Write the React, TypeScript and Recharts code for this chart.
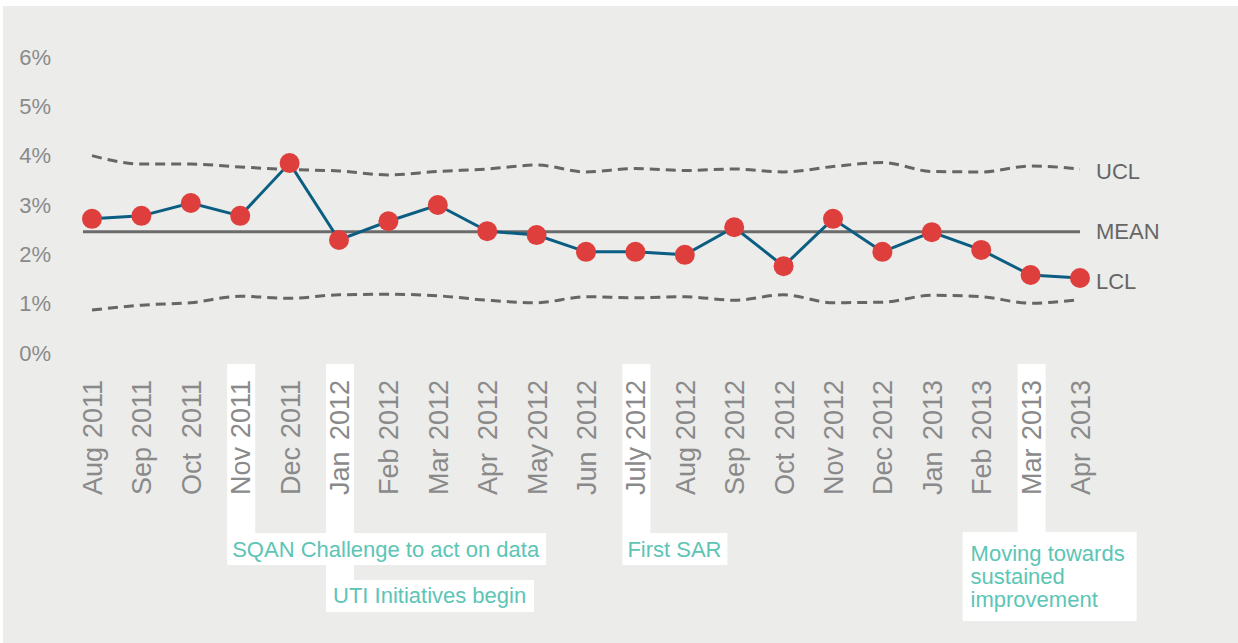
import React from 'react'
import { LineChart, Line, XAxis, YAxis, ReferenceLine, ReferenceDot } from 'recharts'

const months = [
  'Aug 2011', 'Sep 2011', 'Oct 2011', 'Nov 2011', 'Dec 2011', 'Jan 2012', 'Feb 2012',
  'Mar 2012', 'Apr 2012', 'May 2012', 'Jun 2012', 'July 2012', 'Aug 2012', 'Sep 2012',
  'Oct 2012', 'Nov 2012', 'Dec 2012', 'Jan 2013', 'Feb 2013', 'Mar 2013', 'Apr 2013',
]
const rate = [2.72, 2.78, 3.04, 2.78, 3.85, 2.29, 2.67, 3.0, 2.47, 2.39, 2.05, 2.05, 1.99, 2.55, 1.76, 2.72, 2.05, 2.45, 2.09, 1.58, 1.52]
const ucl = [4.0, 3.83, 3.83, 3.77, 3.72, 3.69, 3.61, 3.68, 3.73, 3.81, 3.67, 3.74, 3.7, 3.73, 3.67, 3.78, 3.86, 3.68, 3.67, 3.79, 3.73]
const lcl = [0.87, 0.97, 1.02, 1.15, 1.11, 1.18, 1.19, 1.16, 1.07, 1.02, 1.14, 1.12, 1.14, 1.07, 1.18, 1.02, 1.03, 1.17, 1.14, 1.01, 1.08]
const MEAN = 2.46
const yTicks = [0, 1, 2, 3, 4, 5, 6]

// annotation text per month
const notes: Record<string, string[]> = {
  'Nov 2011': ['SQAN Challenge to act on data'],
  'Jan 2012': ['UTI Initiatives begin'],
  'July 2012': ['First SAR'],
  'Mar 2013': ['Moving towards', 'sustained', 'improvement'],
}

// side labels: [text, y value]
const sideLabels: [string, number][] = [
  ['UCL', 3.69],
  ['MEAN', MEAN],
  ['LCL', 1.46],
]

const chartData = months.map((m, i) => ({ month: m, rate: rate[i], ucl: ucl[i], lcl: lcl[i] }))

const FONT = '"Liberation Sans", Arial, sans-serif'
const TICK_GREY = '#8a8a8a'
const NOTE_GREEN = '#5cc5b5'

// layout of the white strips and boxes, relative to the tick position
const noteLayout: Record<string, { strips: [number, number][]; box: [number, number, number, number]; tx: number; ty: number }> = {
  'Nov 2011': { strips: [[11, 181]], box: [-13, 180, 319, 32], tx: -8, ty: 204 },
  'Jan 2012': { strips: [[11, 181], [211, 228]], box: [-13, 227, 208, 32], tx: -6, ty: 250 },
  'July 2012': { strips: [[11, 181]], box: [-13, 180, 105, 32], tx: -8, ty: 204 },
  'Mar 2013': { strips: [[11, 180]], box: [-68, 179, 174, 89], tx: -60, ty: 208 },
}

function MonthTick(props: any) {
  const { x, y, payload } = props
  const label: string = payload.value
  const [mon, yr] = label.split(' ')
  const lay = noteLayout[label]
  const lines = notes[label]
  return (
    <g>
      {lay && lay.strips.map(([t, b], i) => (
        <rect key={i} x={x - 13} y={y + t} width={28} height={b - t} fill="#ffffff" />
      ))}
      <text transform={`translate(${x + 10},${y + 142}) rotate(-90)`} textAnchor="start" fontSize={27} fill={TICK_GREY} fontFamily={FONT}>{mon}</text>
      <text transform={`translate(${x + 10},${y + 27}) rotate(-90)`} textAnchor="end" fontSize={27} fill={TICK_GREY} fontFamily={FONT}>{yr}</text>
      {lay && (
        <g>
          <rect x={x + lay.box[0]} y={y + lay.box[1]} width={lay.box[2]} height={lay.box[3]} fill="#ffffff" />
          <text fontSize={22} fill={NOTE_GREEN} fontFamily={FONT}>
            {lines.map((ln, i) => (
              <tspan key={i} x={x + lay.tx} y={y + lay.ty + i * 23}>{ln}</tspan>
            ))}
          </text>
        </g>
      )}
    </g>
  )
}

export default function App() {
  return (
    <div style={{ position: 'absolute', left: 0, top: 0, width: 1238, height: 643, background: '#ffffff' }}>
      <div style={{ position: 'absolute', left: 3, top: 6, width: 1235, height: 637, background: '#ececea' }} />
      <div style={{ position: 'absolute', left: 0, top: 0 }}>
        <LineChart width={1238} height={643} data={chartData} margin={{ top: 57, right: 158, bottom: 0, left: 0 }}>
          <XAxis
            dataKey="month"
            interval={0}
            height={290}
            axisLine={false}
            tickLine={false}
            tickSize={0}
            tickMargin={0}
            padding={{ left: 9, right: 0 }}
            tick={<MonthTick />}
          />
          <YAxis
            domain={[0, 6]}
            ticks={yTicks}
            width={83}
            axisLine={false}
            tickLine={false}
            tickSize={0}
            tickMargin={32}
            tickFormatter={(v: number) => `${v}%`}
            tick={{ fontSize: 22, fill: TICK_GREY, fontFamily: FONT }}
          />
          <ReferenceLine y={MEAN} stroke="#6b6b6b" strokeWidth={3} />
          <Line type="monotone" dataKey="ucl" stroke="#666666" strokeWidth={3} strokeDasharray="10 6" dot={false} isAnimationActive={false} />
          <Line type="monotone" dataKey="lcl" stroke="#666666" strokeWidth={3} strokeDasharray="10 6" dot={false} isAnimationActive={false} />
          <Line
            type="linear"
            dataKey="rate"
            stroke="#0b5e82"
            strokeWidth={3}
            dot={{ r: 10, fill: '#de3f3d', stroke: 'none', strokeWidth: 0 }}
            activeDot={false}
            isAnimationActive={false}
          />
          {sideLabels.map(([t, v]) => (
            <ReferenceDot
              key={t}
              x={months[months.length - 1]}
              y={v}
              r={0}
              fill="none"
              stroke="none"
              label={{ value: t, position: 'right', offset: 16, fontSize: 22, fill: '#666666', fontFamily: FONT }}
            />
          ))}
        </LineChart>
      </div>
    </div>
  )
}
